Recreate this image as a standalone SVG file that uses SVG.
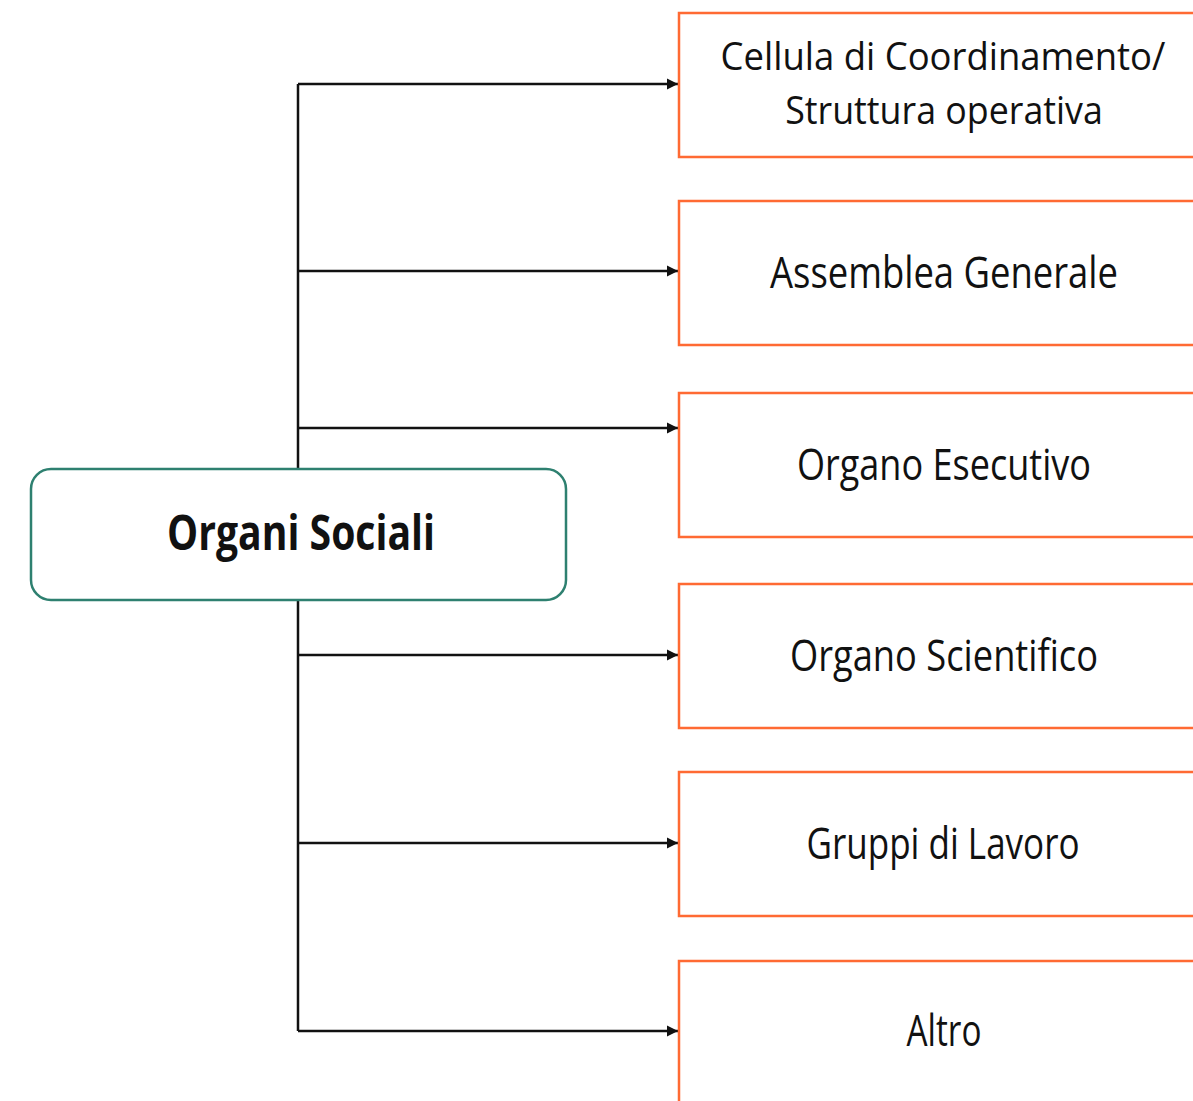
<svg xmlns="http://www.w3.org/2000/svg" width="1193" height="1101" viewBox="0 0 1193 1101">
<style>
.box{fill:#fff;stroke:#ff6a33;stroke-width:2.5}
.lbl{font-family:"Open Sans","Noto Sans",sans-serif;font-size:44px;fill:#111;text-anchor:middle}
.sm{font-size:39px}
.conn{fill:none;stroke:#111;stroke-width:2.5}
</style>
<defs>
<marker id="ah" viewBox="0 0 10 10" refX="10" refY="5" markerWidth="4.5" markerHeight="4.5" orient="auto" markerUnits="strokeWidth">
<path d="M0,0 L10,5 L0,10 z" fill="#111"/>
</marker>
</defs>
<rect width="1193" height="1101" fill="#fff"/>
<g id="connectors">
<path class="conn" d="M298,84 V1031"/>
<path class="conn" d="M298,84 H678" marker-end="url(#ah)"/>
<path class="conn" d="M298,271 H678" marker-end="url(#ah)"/>
<path class="conn" d="M298,428 H678" marker-end="url(#ah)"/>
<path class="conn" d="M298,655 H678" marker-end="url(#ah)"/>
<path class="conn" d="M298,843 H678" marker-end="url(#ah)"/>
<path class="conn" d="M298,1031 H678" marker-end="url(#ah)"/>
</g>
<g id="node-organi-sociali">
<rect x="31" y="469" width="535" height="131" rx="20" fill="#fff" stroke="#2e8070" stroke-width="2.5"/>
<text x="301" y="550" font-family="'Open Sans','Noto Sans',sans-serif" font-weight="bold" font-size="48" fill="#111" text-anchor="middle" textLength="268" lengthAdjust="spacingAndGlyphs">Organi Sociali</text>
</g>
<g id="node-cellula">
<path class="box" d="M1193,13 H679 V157 H1193"/>
<g transform="translate(943,70) scale(0.8,1)">
<text class="lbl sm" x="0" y="0" textLength="556" lengthAdjust="spacingAndGlyphs">Cellula di Coordinamento/</text>
</g>
<g transform="translate(944,124) scale(0.8,1)">
<text class="lbl sm" x="0" y="0" textLength="397" lengthAdjust="spacingAndGlyphs">Struttura operativa</text>
</g>
</g>
<g id="node-assemblea">
<path class="box" d="M1193,201 H679 V345 H1193"/>
<text class="lbl" x="944" y="288" textLength="348" lengthAdjust="spacingAndGlyphs">Assemblea Generale</text>
</g>
<g id="node-esecutivo">
<path class="box" d="M1193,393 H679 V537 H1193"/>
<text class="lbl" x="944" y="480" textLength="294" lengthAdjust="spacingAndGlyphs">Organo Esecutivo</text>
</g>
<g id="node-scientifico">
<path class="box" d="M1193,584 H679 V728 H1193"/>
<text class="lbl" x="944" y="671" textLength="308" lengthAdjust="spacingAndGlyphs">Organo Scientifico</text>
</g>
<g id="node-gruppi">
<path class="box" d="M1193,772 H679 V916 H1193"/>
<text class="lbl" x="943" y="859" textLength="273" lengthAdjust="spacingAndGlyphs">Gruppi di Lavoro</text>
</g>
<g id="node-altro">
<path class="box" d="M1193,961 H679 V1101"/>
<text class="lbl" x="944" y="1046" textLength="75" lengthAdjust="spacingAndGlyphs">Altro</text>
</g>
</svg>
